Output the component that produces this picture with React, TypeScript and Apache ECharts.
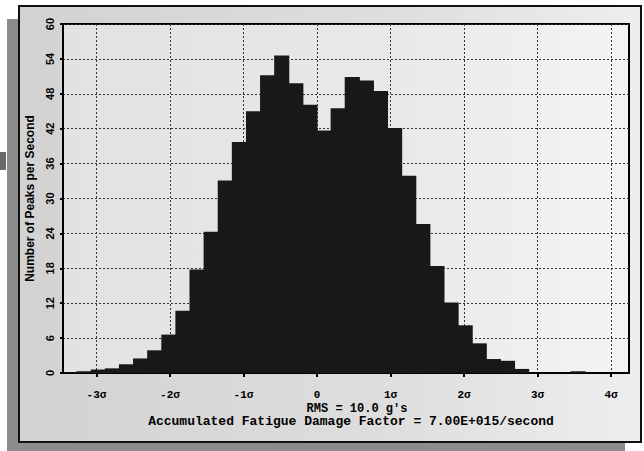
import React, { useEffect, useRef } from "react";
import * as echarts from "echarts";

// Histogram bins (x in units of sigma), counts = peaks per second
const binStart = -3.456;
const binWidth = 0.192;
const counts = [
  0.1, 0.3, 0.6, 0.8, 1.5, 2.5, 3.9, 6.6, 10.7, 17.8,
  24.3, 33.1, 39.7, 45.0, 51.2, 54.6, 49.8, 46.1, 41.7, 45.5,
  50.9, 50.3, 48.5, 42.1, 33.9, 25.6, 18.4, 12.1, 8.2, 5.1,
  2.4, 2.1, 0.7, 0, 0, 0, 0.3,
];
const xTicks = [-3, -2, -1, 0, 1, 2, 3, 4];
const xMin = -3.456;
const xMax = 4.245;
const yTicks = [0, 6, 12, 18, 24, 30, 36, 42, 48, 54, 60];
const yAxisTitle = "Number of Peaks per Second";
const rmsText = "RMS = 10.0 g's";
const damageText = "Accumulated Fatigue Damage Factor = 7.00E+015/second";

export default function App() {
  const ref = useRef<HTMLDivElement>(null);
  useEffect(() => {
    document.body.style.margin = "0";
    if (!ref.current) return;
    const chart = echarts.init(ref.current, undefined, { renderer: "svg" });
    const data = counts.map((c, i) => [
      binStart + i * binWidth,
      binStart + (i + 1) * binWidth,
      c,
    ]);
    const mono = "Liberation Mono";
    chart.setOption({
      animation: false,
      backgroundColor: "#ffffff",
      graphic: [
        { type: "rect", z: -10, shape: { x: 0, y: 152, width: 6, height: 18 }, style: { fill: "#6a6a6a" } },
        { type: "rect", z: -10, shape: { x: 7, y: 19, width: 13, height: 430 }, style: { fill: "#8c8c8c" } },
        { type: "rect", z: -10, shape: { x: 7, y: 441, width: 618, height: 10 }, style: { fill: "#8c8c8c" } },
        {
          type: "rect",
          z: -9,
          shape: { x: 19, y: 6, width: 622, height: 436 },
          style: {
            fill: {
              type: "linear", x: 0, y: 0, x2: 1, y2: 0,
              colorStops: [
                { offset: 0, color: "#d2d2d2" },
                { offset: 0.6, color: "#dedede" },
                { offset: 1, color: "#eeeeee" },
              ],
            },
            stroke: "#111111",
            lineWidth: 2,
          },
        },
        {
          type: "text",
          z: 50,
          style: {
            x: 357, y: 408.5, text: rmsText, align: "center", verticalAlign: "middle",
            font: `bold 12px "${mono}"`, fill: "#000",
          },
        },
        {
          type: "text",
          z: 50,
          style: {
            x: 351, y: 421.5, text: damageText, align: "center", verticalAlign: "middle",
            font: `bold 13px "${mono}"`, fill: "#000",
          },
        },
      ],
      grid: {
        left: 63, top: 24, right: 15, bottom: 78,
        show: true,
        backgroundColor: {
          type: "linear", x: 0, y: 0, x2: 1, y2: 0,
          colorStops: [
            { offset: 0, color: "#e2e2e2" },
            { offset: 0.6, color: "#e9e9e9" },
            { offset: 1, color: "#f4f4f4" },
          ],
        },
        borderColor: "#000",
        borderWidth: 2,
      },
      xAxis: {
        type: "value",
        min: xMin,
        max: xMax,
        axisLine: { show: true, lineStyle: { color: "#000", width: 2 } },
        axisTick: { show: true, customValues: xTicks, length: 4, lineStyle: { color: "#000", width: 2 } },
        axisLabel: {
          customValues: xTicks,
          margin: 16,
          fontFamily: mono,
          fontWeight: "bold",
          fontSize: 11,
          color: "#000",
          formatter: (v: number) => (v === 0 ? "0" : `${v}σ`),
        },
        splitLine: { show: true, lineStyle: { type: [2, 2], color: "#333", width: 1 } },
      },
      yAxis: {
        type: "value",
        min: 0,
        max: 60,
        interval: 6,
        name: yAxisTitle,
        nameLocation: "middle",
        nameGap: 27,
        nameRotate: 90,
        nameTextStyle: { fontFamily: "Liberation Sans", fontWeight: "bold", fontSize: 12, color: "#000" },
        axisLine: { show: true, onZero: false, lineStyle: { color: "#000", width: 2 } },
        axisTick: { show: true, length: 3, lineStyle: { color: "#000", width: 2 } },
        axisLabel: {
          rotate: 90,
          margin: 8,
          fontFamily: "Liberation Sans",
          fontWeight: "bold",
          fontSize: 11,
          color: "#000",
          formatter: (v: number) => (yTicks.includes(v) ? String(v) : ""),
        },
        splitLine: { show: true, lineStyle: { type: [2, 2], color: "#333", width: 1 } },
      },
      series: [
        {
          type: "custom",
          data,
          encode: { x: [0, 1], y: 2 },
          z: 5,
          renderItem: (params: any, api: any) => {
            const x0 = api.value(0);
            const x1 = api.value(1);
            const y = api.value(2);
            const p0 = api.coord([x0, y]);
            const p1 = api.coord([x1, 0]);
            return {
              type: "rect",
              shape: { x: p0[0] - 0.5, y: p0[1], width: p1[0] - p0[0] + 1, height: p1[1] - p0[1] },
              style: { fill: "#181818" },
            };
          },
        },
      ],
    });
    return () => chart.dispose();
  }, []);
  return (
    <div
      ref={ref}
      style={{ position: "absolute", left: 0, top: 0, width: 644, height: 451 }}
    />
  );
}
